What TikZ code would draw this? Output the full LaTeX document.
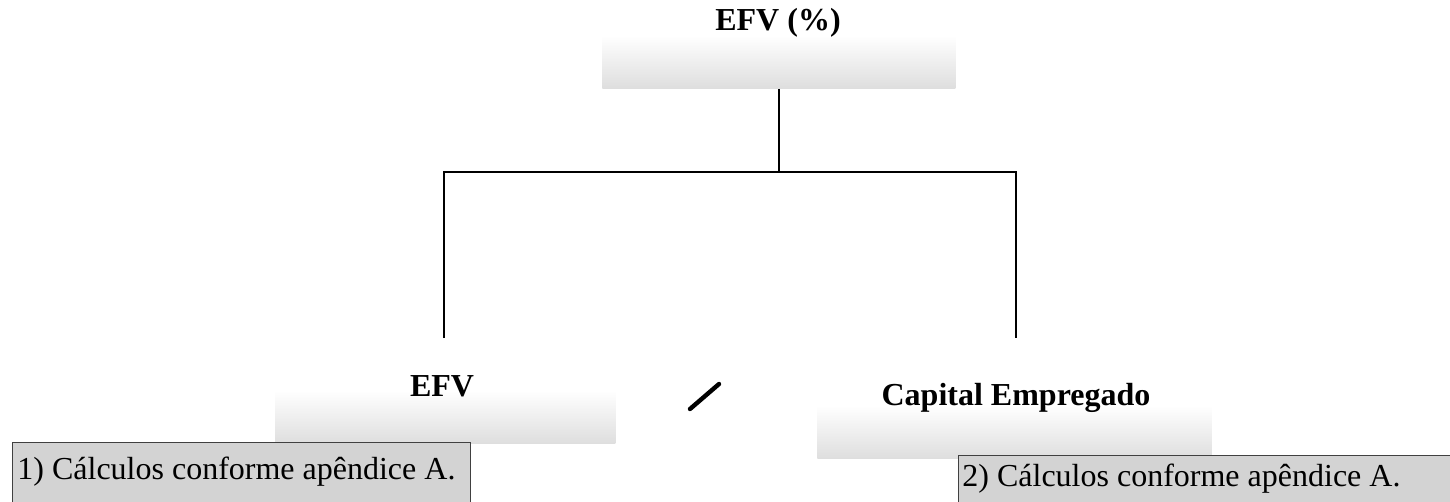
\documentclass[tikz,border=0pt]{standalone}
\usepackage{fontspec}
\setmainfont{Liberation Serif}
\definecolor{fadegray}{RGB}{222,222,222}
\definecolor{notegray}{RGB}{211,211,211}
\definecolor{noteedge}{RGB}{64,64,64}
% white upper part, fading to light gray at the bottom edge
\pgfdeclareverticalshading{boxfade}{100bp}{color(0bp)=(fadegray); color(25bp)=(fadegray); color(55bp)=(white); color(100bp)=(white)}
\tikzset{
  fadebox/.style={rectangle, shading=boxfade, draw=none, inner sep=0pt, anchor=north west, minimum height=44pt},
  heading/.style={font=\fontsize{16}{19}\selectfont\bfseries, anchor=base, inner sep=0pt},
  notebox/.style={rectangle, fill=notegray, draw=noteedge, line width=0.6pt, inner sep=0pt, anchor=north west},
  notetext/.style={font=\fontsize{16}{19}\selectfont, anchor=base west, inner sep=0pt},
  wire/.style={line width=1.2pt, black},
  divider/.style={line width=2.2pt, black, line cap=round}
}
\begin{document}
\begin{tikzpicture}[x=0.5pt, y=-0.5pt]
  \useasboundingbox (0,0) rectangle (1450,502);
  \clip (0,0) rectangle (1450,502);

  % gradient boxes
  \node[fadebox, minimum width=176.5pt] (topbox) at (602,0) {};
  \node[fadebox, minimum width=170pt] (efvbox) at (275,355) {};
  \node[fadebox, minimum width=197pt] (capbox) at (817,370) {};

  % headings
  \node[heading] (toplabel) at (778,31) {EFV (\%)};
  \node[heading] (efvlabel) at (442,396) {EFV};
  \node[heading] (caplabel) at (1016,405) {Capital Empregado};

  % tree connectors
  \coordinate (hub) at (topbox.south |- 0,172);
  \coordinate (lefttop) at (444,338);
  \coordinate (righttop) at (1016,338);
  \draw[wire] (topbox.south) -- (hub);
  \draw[wire] (lefttop) |- (hub) -| (righttop);

  % division sign between the two operands
  \coordinate (slashlow) at (690,409);
  \coordinate (slashhigh) at (719,384);
  \draw[divider] (slashlow) -- (slashhigh);

  % footnotes
  \node[notebox, minimum width=229pt, minimum height=40pt] (note1) at (12,442) {};
  \node[notetext] (note1text) at (17,479) {1) Cálculos conforme apêndice A.};
  \node[notebox, minimum width=300pt, minimum height=40pt] (note2) at (958,455) {};
  \node[notetext] (note2text) at (962,486) {2) Cálculos conforme apêndice A.};
\end{tikzpicture}
\end{document}
